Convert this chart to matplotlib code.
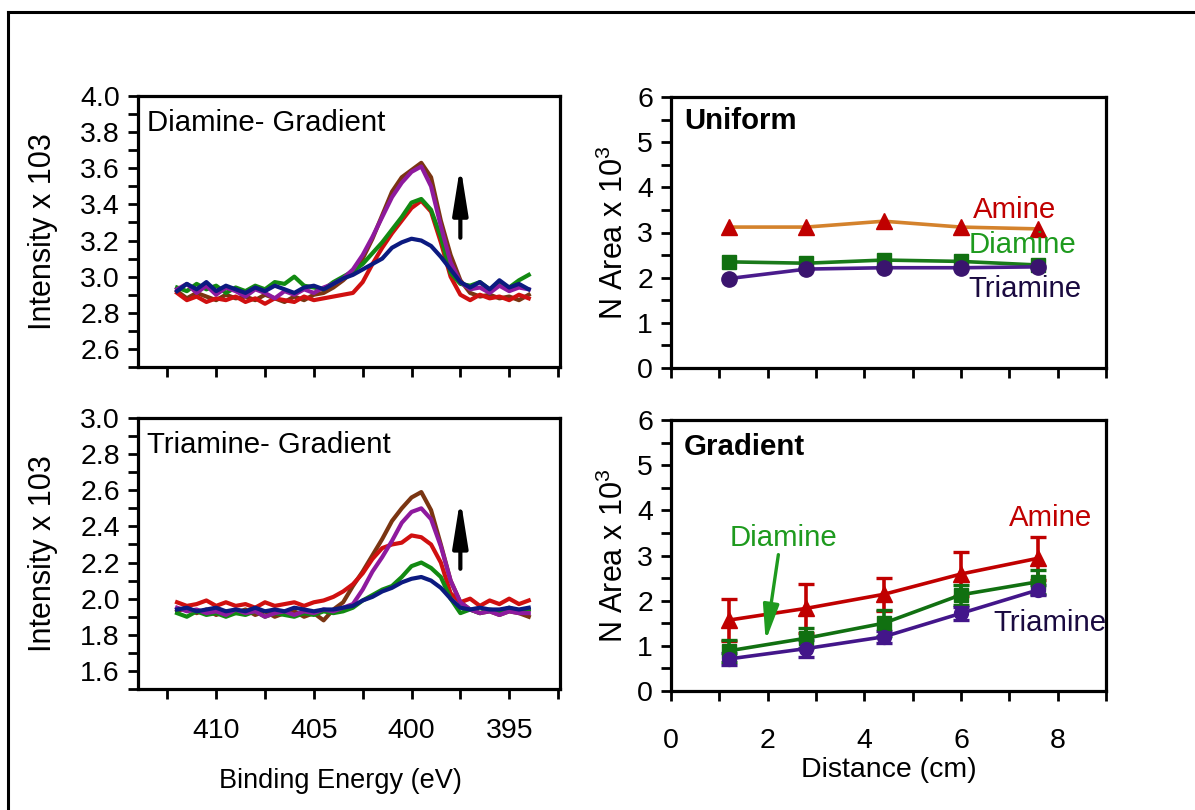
import numpy as np
import matplotlib.pyplot as plt
from matplotlib.ticker import FixedLocator, MultipleLocator, FormatStrFormatter
from matplotlib.lines import Line2D

plt.rcParams['font.family'] = ['Liberation Sans', 'DejaVu Sans']
plt.rcParams['mathtext.default'] = 'regular'

# ---- XPS N1s spectra, every 0.5 eV ----
energy = [412.0, 411.5, 411.0, 410.5, 410.0, 409.5, 409.0, 408.5, 408.0, 407.5,
          407.0, 406.5, 406.0, 405.5, 405.0, 404.5, 404.0, 403.5, 403.0, 402.5,
          402.0, 401.5, 401.0, 400.5, 400.0, 399.5, 399.0, 398.5, 398.0, 397.5,
          397.0, 396.5, 396.0, 395.5, 395.0, 394.5, 394.0]

# Diamine - gradient
di_brown = [2.92, 2.88, 2.91, 2.89, 2.87, 2.90, 2.88, 2.89, 2.87, 2.90, 2.88, 2.86,
            2.89, 2.87, 2.90, 2.91, 2.94, 2.98, 3.03, 3.10, 3.21, 3.34, 3.47, 3.55,
            3.59, 3.63, 3.55, 3.31, 3.12, 2.98, 2.91, 2.89, 2.90, 2.88, 2.89, 2.87, 2.90]
di_red = [2.91, 2.87, 2.89, 2.86, 2.88, 2.87, 2.89, 2.86, 2.88, 2.85, 2.88, 2.87,
          2.86, 2.89, 2.87, 2.88, 2.89, 2.90, 2.91, 2.97, 3.07, 3.16, 3.24, 3.31,
          3.38, 3.42, 3.36, 3.19, 3.00, 2.90, 2.87, 2.90, 2.88, 2.89, 2.87, 2.90, 2.88]
di_green = [2.94, 2.92, 2.96, 2.93, 2.95, 2.91, 2.94, 2.92, 2.95, 2.93, 2.97, 2.96,
            3.00, 2.95, 2.94, 2.93, 2.97, 3.00, 3.03, 3.07, 3.13, 3.19, 3.26, 3.33,
            3.41, 3.43, 3.37, 3.22, 3.02, 2.96, 2.95, 2.97, 2.93, 2.96, 2.94, 2.98, 3.01]
di_purple = [2.93, 2.96, 2.91, 2.95, 2.90, 2.94, 2.92, 2.89, 2.93, 2.91, 2.88, 2.92,
             2.90, 2.93, 2.91, 2.94, 2.96, 2.99, 3.04, 3.12, 3.22, 3.33, 3.44, 3.52,
             3.58, 3.61, 3.50, 3.28, 3.08, 2.97, 2.93, 2.94, 2.91, 2.95, 2.92, 2.94, 2.93]
di_blue = [2.92, 2.96, 2.93, 2.97, 2.92, 2.95, 2.93, 2.91, 2.94, 2.92, 2.95, 2.93,
           2.91, 2.94, 2.95, 2.93, 2.96, 2.99, 3.01, 3.04, 3.07, 3.10, 3.16, 3.19,
           3.21, 3.20, 3.17, 3.11, 3.04, 2.97, 2.94, 2.97, 2.93, 2.98, 2.94, 2.96, 2.93]

# Triamine - gradient
tri_brown = [1.93, 1.95, 1.92, 1.94, 1.91, 1.93, 1.92, 1.94, 1.91, 1.93, 1.90, 1.92,
             1.93, 1.90, 1.92, 1.88, 1.94, 1.98, 2.07, 2.15, 2.24, 2.33, 2.43, 2.50,
             2.56, 2.59, 2.49, 2.30, 2.10, 1.98, 1.94, 1.92, 1.93, 1.91, 1.93, 1.92, 1.90]
tri_red = [1.98, 1.96, 1.97, 1.99, 1.96, 1.98, 1.96, 1.97, 1.95, 1.98, 1.96, 1.97,
           1.98, 1.96, 1.98, 1.99, 2.01, 2.04, 2.08, 2.14, 2.22, 2.28, 2.30, 2.31,
           2.35, 2.34, 2.30, 2.20, 2.03, 1.98, 2.00, 1.96, 1.99, 1.97, 2.00, 1.97, 1.99]
tri_green = [1.92, 1.90, 1.93, 1.91, 1.92, 1.90, 1.92, 1.91, 1.93, 1.90, 1.92, 1.91,
             1.90, 1.92, 1.91, 1.93, 1.92, 1.93, 1.95, 1.99, 2.02, 2.05, 2.07, 2.12,
             2.18, 2.20, 2.17, 2.12, 2.00, 1.92, 1.94, 1.92, 1.94, 1.93, 1.95, 1.93, 1.94]
tri_purple = [1.95, 1.93, 1.94, 1.92, 1.93, 1.91, 1.94, 1.92, 1.93, 1.90, 1.92, 1.93,
              1.91, 1.93, 1.92, 1.94, 1.93, 1.95, 1.97, 2.05, 2.15, 2.23, 2.32, 2.42,
              2.48, 2.50, 2.44, 2.29, 2.10, 1.98, 1.94, 1.92, 1.93, 1.91, 1.93, 1.92, 1.92]
tri_blue = [1.94, 1.95, 1.93, 1.94, 1.95, 1.93, 1.94, 1.93, 1.95, 1.93, 1.94, 1.93,
            1.95, 1.94, 1.93, 1.94, 1.94, 1.95, 1.96, 1.99, 2.01, 2.04, 2.06, 2.09,
            2.11, 2.12, 2.10, 2.06, 2.00, 1.95, 1.94, 1.95, 1.94, 1.94, 1.95, 1.94, 1.95]

# ---- N area vs distance ----
distance = [1.2, 2.8, 4.4, 6.0, 7.6]
uni_amine = [3.12, 3.12, 3.25, 3.12, 3.08]
uni_diamine = [2.35, 2.32, 2.39, 2.36, 2.28]
uni_triamine = [1.98, 2.19, 2.22, 2.22, 2.24]

grad_amine = [1.57, 1.83, 2.14, 2.59, 2.94]
grad_amine_err = [0.46, 0.55, 0.37, 0.49, 0.48]
grad_diamine = [0.89, 1.17, 1.50, 2.13, 2.42]
grad_diamine_err = [0.25, 0.22, 0.29, 0.22, 0.27]
grad_triamine = [0.71, 0.94, 1.20, 1.72, 2.24]
grad_triamine_err = [0.13, 0.18, 0.13, 0.15, 0.11]

W, H = 1195, 810
FS = 20.5
TS = 21.2   # in-plot labels
C_BROWN, C_RED, C_GREEN, C_PURPLE, C_BLUE = '#7a3512', '#d01010', '#128a12', '#8e1a9e', '#0c1a80'
C_AMINE = '#c00000'

fig = plt.figure(figsize=(W / 100, H / 100), dpi=100)


def add_ax(x0, y0, x1, y1):
    return fig.add_axes([x0 / W, 1 - y1 / H, (x1 - x0) / W, (y1 - y0) / H])


def style(ax):
    for s in ax.spines.values():
        s.set_linewidth(2.3)
    ax.tick_params(which='both', direction='out', width=2.0, labelsize=FS, pad=6)
    ax.tick_params(which='major', length=7)
    ax.tick_params(which='minor', length=7)


# frame lines around the picture (top and left edges only visible)
fig.add_artist(Line2D([8 / W, 1], [1 - 12 / H, 1 - 12 / H], color='black', lw=2.2))
fig.add_artist(Line2D([8 / W, 8 / W], [0, 1 - 12 / H], color='black', lw=2.2))

spectra = [
    (di_brown, di_red, di_green, di_purple, di_blue),
    (tri_brown, tri_red, tri_green, tri_purple, tri_blue),
]
boxes = [(138, 96, 560, 367), (138, 418, 560, 689)]
ylims = [(2.5, 4.0), (1.5, 3.0)]
labels = ['Diamine- Gradient', 'Triamine- Gradient']
arrows = [(3.20, 3.63), (2.15, 2.57)]

for k in range(2):
    ax = add_ax(*boxes[k])
    brown, red, green, purple, blue = spectra[k]
    for ys, c in [(brown, C_BROWN), (red, C_RED), (green, C_GREEN), (purple, C_PURPLE), (blue, C_BLUE)]:
        ax.plot(energy, ys, color=c, lw=3.0)
    ax.set_xlim(414, 392.4)
    ax.set_ylim(*ylims[k])
    ax.xaxis.set_major_locator(FixedLocator([410, 405, 400, 395]))
    ax.xaxis.set_minor_locator(FixedLocator([412.5, 407.5, 402.5, 397.5, 392.5]))
    ax.yaxis.set_major_locator(MultipleLocator(0.2))
    ax.yaxis.set_minor_locator(MultipleLocator(0.1))
    ax.yaxis.set_major_formatter(FormatStrFormatter('%.1f'))
    style(ax)
    if k == 0:
        ax.tick_params(axis='x', labelbottom=False)
    else:
        ax.tick_params(axis='x', pad=14)
        ax.set_xlabel('Binding Energy (eV)', fontsize=19.5)
        ax.xaxis.set_label_coords(0.48, -0.29)
    ax.set_ylabel('Intensity x 103', fontsize=22)
    ax.yaxis.set_label_coords(-0.19, 0.5)
    ax.text(0.022, 0.90, labels[k], transform=ax.transAxes, fontsize=TS, va='center')
    ax.annotate('', xy=(397.5, arrows[k][1]), xytext=(397.5, arrows[k][0]),
                arrowprops=dict(arrowstyle='-|>,head_length=1.0,head_width=0.16',
                                lw=3.0, color='black', mutation_scale=28))

# ---- Uniform ----
ax = add_ax(671, 97, 1106, 368)
ax.plot(distance, uni_amine, color='#d4822c', lw=2.6, marker='^', ms=12,
        mfc=C_AMINE, mec=C_AMINE)
ax.plot(distance, uni_diamine, color='#1a7a1a', lw=2.6, marker='s', ms=10,
        mfc='#117011', mec='#117011')
ax.plot(distance, uni_triamine, color='#4a1c8c', lw=2.6, marker='o', ms=11,
        mfc='#3a146e', mec='#3a146e')
ax.text(0.03, 0.91, 'Uniform', transform=ax.transAxes, fontsize=TS, fontweight='bold', va='center')
ax.text(6.25, 3.5, 'Amine', color=C_AMINE, fontsize=TS, va='center')
ax.text(6.15, 2.72, 'Diamine', color='#1e9a1e', fontsize=TS, va='center')
ax.text(6.15, 1.76, 'Triamine', color='#1a0a40', fontsize=TS, va='center')

axes_r = [ax]

# ---- Gradient ----
ax = add_ax(671, 420, 1106, 691)
ax.errorbar(distance, grad_amine, yerr=grad_amine_err, color=C_AMINE, lw=2.6,
            marker='^', ms=12, capsize=6, capthick=2.4, elinewidth=2.6)
ax.errorbar(distance, grad_diamine, yerr=grad_diamine_err, color='#117011', lw=2.6,
            marker='s', ms=10, capsize=6, capthick=2.4, elinewidth=2.6)
ax.errorbar(distance, grad_triamine, yerr=grad_triamine_err, color='#43168a', lw=2.6,
            marker='o', ms=10, capsize=6, capthick=2.4, elinewidth=2.6)
ax.text(0.03, 0.90, 'Gradient', transform=ax.transAxes, fontsize=TS, fontweight='bold', va='center')
ax.text(7.0, 3.82, 'Amine', color=C_AMINE, fontsize=TS, va='center')
ax.text(1.22, 3.38, 'Diamine', color='#1e9a1e', fontsize=TS, va='center')
ax.text(6.68, 1.51, 'Triamine', color='#1a0a40', fontsize=TS, va='center')
ax.annotate('', xy=(1.95, 1.05), xytext=(2.23, 3.08),
            arrowprops=dict(arrowstyle='-|>,head_length=0.9,head_width=0.2',
                            lw=2.4, color='#1e9a1e', mutation_scale=24))
ax.set_xlabel('Distance (cm)', fontsize=FS)
ax.xaxis.set_label_coords(0.5, -0.245)
axes_r.append(ax)

for i, ax in enumerate(axes_r):
    ax.set_xlim(0, 9)
    ax.set_ylim(0, 6)
    ax.xaxis.set_major_locator(FixedLocator([0, 2, 4, 6, 8]))
    ax.xaxis.set_minor_locator(FixedLocator([1, 3, 5, 7, 9]))
    ax.yaxis.set_major_locator(MultipleLocator(1))
    ax.yaxis.set_minor_locator(MultipleLocator(0.5))
    style(ax)
    ax.tick_params(axis='x', pad=20)
    if i == 0:
        ax.tick_params(axis='x', labelbottom=False)
    ax.set_ylabel('N Area x 10$^3$', fontsize=22)
    ax.yaxis.set_label_coords(-0.095, 0.5)

fig.savefig('out.png', dpi=100)
plt.close(fig)
